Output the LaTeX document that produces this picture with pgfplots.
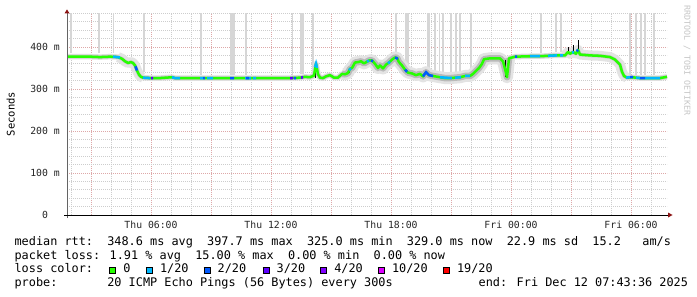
\documentclass[border=0pt]{standalone}
\usepackage{pgfplots}
\pgfplotsset{compat=1.18}
\usepackage{pgfplotstable}
\usepackage{fontspec}
\setmainfont{DejaVu Sans Mono}
\setmonofont{DejaVu Sans Mono}

\definecolor{l0}{HTML}{26FF00}
\definecolor{l1}{HTML}{00B8FF}
\definecolor{l2}{HTML}{0059FF}
\definecolor{l3}{HTML}{5E00FF}
\definecolor{l4}{HTML}{7E00FF}
\definecolor{l10}{HTML}{DD00FF}
\definecolor{l19}{HTML}{FF0000}
\definecolor{gridred}{RGB}{222,168,168}
\definecolor{gridgray}{RGB}{205,205,205}
\definecolor{spike}{RGB}{214,214,214}
\definecolor{arrowred}{RGB}{140,20,20}
\definecolor{axisgray}{RGB}{100,100,100}

\newcommand\lb[1]{{\setlength{\fboxsep}{0pt}\setlength{\fboxrule}{0.8bp}\fcolorbox{black}{#1}{\rule{0pt}{5.4bp}\rule{5.4bp}{0pt}}}}
\newcommand\lfont{\fontsize{11.85bp}{14bp}\selectfont}

% median round-trip time (ms) vs hours since Thu 00:00
\pgfplotstableread{
h v
1.80 377
2.45 377
2.95 377
3.45 376
3.95 377
4.35 376
4.55 372
4.70 366
4.85 362
5.00 364
5.10 362
5.20 356
5.30 344
5.40 334
5.50 329
5.60 327
5.95 326
6.45 326
7.05 328
7.20 326
8.45 326
9.95 326
11.45 326
12.95 326
13.45 327
13.70 329
13.95 328
14.15 332
14.25 360
14.35 335
14.45 327
14.60 326
14.75 330
14.95 333
15.15 327
15.35 327
15.55 336
15.70 335
15.85 338
15.95 348
16.05 350
16.20 363
16.35 364
16.50 366
16.65 361
16.80 365
16.90 368
17.05 368
17.20 360
17.35 350
17.45 356
17.60 349
17.75 358
17.90 363
18.05 370
18.20 375
18.30 374
18.40 364
18.55 356
18.70 346
18.85 339
19.05 337
19.25 333
19.45 336
19.60 330
19.75 340
19.90 333
20.10 331
20.45 328
20.70 326
20.95 326
21.20 327
21.45 328
21.70 331
21.95 331
22.10 336
22.25 343
22.40 350
22.55 360
22.65 371
22.95 373
23.45 373
23.60 366
23.70 348
23.80 328
23.90 373
24.20 377
24.95 378
25.45 378
26.20 380
26.70 380
26.85 388
26.95 384
27.10 388
27.25 384
27.35 393
27.45 382
27.95 380
28.45 379
28.95 376
29.20 370
29.45 358
29.55 341
29.65 331
29.80 327
30.05 328
30.45 326
30.95 326
31.45 326
31.80 329
}\median

\begin{document}
\begin{tikzpicture}
\useasboundingbox (0,0) rectangle (697bp,-297bp);
\fill[white] (0,0) rectangle (697bp,-297bp);

\begin{axis}[
  at={(67bp,-215bp)}, anchor=south west,
  scale only axis, width=600bp, height=201.6bp,
  xmin=1.8, xmax=31.8, ymin=0, ymax=480,
  axis line style={draw=none},
  clip mode=individual,
  xtick={3,6,...,30},
  xticklabels={,Thu 06:00,,Thu 12:00,,Thu 18:00,,Fri 00:00,,Fri 06:00},
  minor xtick={2,4,5,7,8,10,11,13,14,16,17,19,20,22,23,25,26,28,29,31},
  ytick={0,100,200,300,400},
  yticklabels={\hphantom{00}0\hphantom{00},100 m,200 m,300 m,400 m},
  minor ytick={20,40,60,80,120,140,160,180,220,240,260,280,320,340,360,380,420,440,460,480},
  grid=both,
  major grid style={draw=gridred, dash pattern=on 1bp off 1bp, line width=0.8bp},
  minor grid style={draw=gridgray, dash pattern=on 1bp off 1bp, line width=0.8bp},
  major tick length=0pt, minor tick length=0pt,
  tick label style={font=\fontsize{9.8bp}{11bp}\selectfont, text=black!85},
  yticklabel style={anchor=east, inner sep=0pt, xshift=-7bp},
  xticklabel style={anchor=base, inner sep=0pt, yshift=-13.5bp},
]
% outlier smoke reaching the top
\addplot[draw=spike, line width=1.5bp, unbounded coords=jump, forget plot] coordinates {
(2.0,385)(2.0,480)(2.0,nan)
(3.4,385)(3.4,480)(3.4,nan)
(4.125,385)(4.125,480)(4.125,nan)
(5.65,340)(5.65,480)(5.65,nan)
(8.5,334)(8.5,480)(8.5,nan)
(10.75,334)(10.75,480)(10.75,nan)
(13.07,334)(13.07,480)(13.07,nan)
(14.1,340)(14.1,480)(14.1,nan)
(18.25,385)(18.25,480)(18.25,nan)
(20.2,338)(20.2,480)(20.2,nan)
(20.425,336)(20.425,480)(20.425,nan)
(20.6,336)(20.6,480)(20.6,nan)
(21.0,334)(21.0,480)(21.0,nan)
(21.25,335)(21.25,480)(21.25,nan)
(21.45,336)(21.45,480)(21.45,nan)
(22.0,345)(22.0,480)(22.0,nan)
(25.5,386)(25.5,480)(25.5,nan)
(26.25,388)(26.25,480)(26.25,nan)
(26.5,388)(26.5,480)(26.5,nan)
(29.95,334)(29.95,480)(29.95,nan)
(30.25,334)(30.25,480)(30.25,nan)
(30.5,334)(30.5,480)(30.5,nan)
(30.7,334)(30.7,480)(30.7,nan)
(31.15,334)(31.15,480)(31.15,nan)
};
\addplot[draw=spike, line width=4.5bp, unbounded coords=jump, forget plot] coordinates {
(10.075,334)(10.075,480)(10.075,nan)
(13.55,336)(13.55,480)(13.55,nan)
(18.8,352)(18.8,480)(18.8,nan)
};
\addplot[draw=spike, line width=3bp, unbounded coords=jump, forget plot] coordinates {
(19.85,345)(19.85,480)(19.85,nan)
};
% smoke around the median
\addplot[draw=gray!25, line width=5.5bp, line join=round, forget plot] table[x=h,y=v] {\median};
\addplot[draw=gray!22, line width=12bp, line join=round, unbounded coords=jump, restrict x to domain=15.4:23.95, forget plot] table[x=h,y=v] {\median};
\addplot[draw=gray!22, line width=10bp, line join=round, unbounded coords=jump, restrict x to domain=4.3:5.6, forget plot] table[x=h,y=v] {\median};
\addplot[draw=gray!22, line width=10bp, line join=round, unbounded coords=jump, restrict x to domain=26.7:29.8, forget plot] table[x=h,y=v] {\median};
\addplot[draw=gray!45, line width=3.6bp, line join=round, forget plot] table[x=h,y=v] {\median};
\addplot[draw=gray!55, line width=6.5bp, line join=round, unbounded coords=jump, restrict x to domain=15.4:23.95, forget plot] table[x=h,y=v] {\median};
% dark smoke streaks
\addplot[draw=black, line width=1bp, unbounded coords=jump, forget plot] coordinates {
(14.22,326)(14.22,362)(14.22,nan)
(15.9,338)(15.9,350)(15.9,nan)
(26.85,384)(26.85,400)(26.85,nan)
(27.1,384)(27.1,405)(27.1,nan)
(27.35,388)(27.35,417)(27.35,nan)
(23.72,328)(23.72,368)(23.72,nan)
};
% median coloured by loss
\addplot[draw=black, line width=1bp, line join=round, forget plot] table[x=h,y=v] {\median};
\addplot[draw=l0, line width=2.5bp, line join=round, forget plot] table[x=h,y=v] {\median};
\addplot[draw=l1, line width=2.5bp, unbounded coords=jump, forget plot] coordinates {
(4.1,377)(4.45,375)(4.45,nan)
(5.6,327)(5.95,326)(5.95,nan)
(7.05,328)(7.2,326)(7.45,326)(7.45,nan)
(8.45,326)(8.6,326)(8.6,nan)
(8.8,326)(9.1,326)(9.1,nan)
(10.7,326)(11.0,326)(11.0,nan)
(11.1,326)(11.25,326)(11.25,nan)
(14.2,352)(14.25,360)(14.3,350)(14.3,nan)
(15.9,345)(16.0,349)(16.0,nan)
(16.8,365)(16.9,368)(16.9,nan)
(17.85,361)(17.95,365)(17.95,nan)
(20.45,328)(21.05,326)(21.05,nan)
(21.2,327)(21.5,328)(21.5,nan)
(21.7,331)(21.95,331)(21.95,nan)
(24.95,378)(25.45,378)(25.45,nan)
(25.85,379)(26.3,380)(26.3,nan)
(26.45,380)(26.6,380)(26.6,nan)
(27.05,387)(27.15,388)(27.15,nan)
(29.75,327)(29.95,328)(29.95,nan)
(30.25,327)(30.45,326)(30.45,nan)
(30.7,326)(31.45,326)(31.45,nan)
};
\addplot[draw=l2, line width=2.5bp, unbounded coords=jump, forget plot] coordinates {
(5.22,354)(5.3,344)(5.3,nan)
(8.6,326)(8.7,326)(8.7,nan)
(9.95,326)(10.15,326)(10.15,nan)
(10.75,326)(10.9,326)(10.9,nan)
(13.15,326)(13.25,326)(13.25,nan)
(17.0,368)(17.1,366)(17.1,nan)
(18.2,375)(18.35,372)(18.35,nan)
(18.7,346)(18.8,341)(18.8,nan)
(19.6,330)(19.75,340)(19.9,333)(20.1,331)(20.1,nan)
(24.2,377)(24.3,377)(24.3,nan)
(27.28,390)(27.36,393)(27.36,nan)
(29.95,328)(30.1,328)(30.1,nan)
(30.45,326)(30.7,326)(30.7,nan)
};
\addplot[draw=l3, line width=2.5bp, unbounded coords=jump, forget plot] coordinates {
(6.0,326)(6.1,326)(6.1,nan)
(12.95,326)(13.1,326)(13.1,nan)
(13.5,327)(13.6,328)(13.6,nan)
};
% axes
\draw[axisgray, line width=1bp] ([yshift=-3bp]rel axis cs:0,0) -- (rel axis cs:0,1);
\draw[black, line width=1bp] ([xshift=-3bp]rel axis cs:0,0) -- ([xshift=1bp]rel axis cs:1,0);
\fill[arrowred] ([xshift=-2.5bp]rel axis cs:0,1) -- ([xshift=2.5bp]rel axis cs:0,1) -- ([yshift=4bp]rel axis cs:0,1) -- cycle;
\fill[arrowred] ([xshift=1bp,yshift=2.5bp]rel axis cs:1,0) -- ([xshift=1bp,yshift=-2.5bp]rel axis cs:1,0) -- ([xshift=5.5bp]rel axis cs:1,0) -- cycle;
\end{axis}

% axis title and watermark
\node[rotate=90, anchor=center, inner sep=0pt] at (10.8bp,-114bp) {\fontsize{10.5bp}{12bp}\selectfont Seconds};
\node[rotate=-90, anchor=west, inner sep=0pt, text=gray!45] at (687bp,-5bp) {\fontsize{8.3bp}{10bp}\selectfont RRDTOOL / TOBI OETIKER};

% legend / statistics
\node[anchor=base west, inner sep=0pt] at (14.4bp,-245.3bp) {\lfont median rtt:\ \ 348.6 ms avg\ \ 397.7 ms max\ \ 325.0 ms min\ \ 329.0 ms now\ \ 22.9 ms sd\ \ 15.2\ \ \ am/s};
\node[anchor=base west, inner sep=0pt] at (14.4bp,-259bp) {\lfont packet loss: 1.91 \% avg\ \ 15.00 \% max\ \ 0.00 \% min\ \ 0.00 \% now};
\node[anchor=base west, inner sep=0pt] at (14.4bp,-272.7bp) {\lfont loss color:};
\node[anchor=base west, inner sep=0pt] at (109bp,-272.7bp) {\lfont\lb{l0}\ 0};
\node[anchor=base west, inner sep=0pt] at (145.7bp,-272.7bp) {\lfont\lb{l1}\ 1/20};
\node[anchor=base west, inner sep=0pt] at (203.3bp,-272.7bp) {\lfont\lb{l2}\ 2/20};
\node[anchor=base west, inner sep=0pt] at (262.3bp,-272.7bp) {\lfont\lb{l3}\ 3/20};
\node[anchor=base west, inner sep=0pt] at (320bp,-272.7bp) {\lfont\lb{l4}\ 4/20};
\node[anchor=base west, inner sep=0pt] at (377.7bp,-272.7bp) {\lfont\lb{l10}\ 10/20};
\node[anchor=base west, inner sep=0pt] at (442.7bp,-272.7bp) {\lfont\lb{l19}\ 19/20};
\node[anchor=base west, inner sep=0pt] at (14.4bp,-286.4bp) {\lfont probe:\ \ \ \ \ \ \ 20 ICMP Echo Pings (56 Bytes) every 300s};
\node[anchor=base west, inner sep=0pt] at (478.5bp,-286.4bp) {\lfont end: Fri Dec 12 07:43:36 2025};
\end{tikzpicture}
\end{document}
